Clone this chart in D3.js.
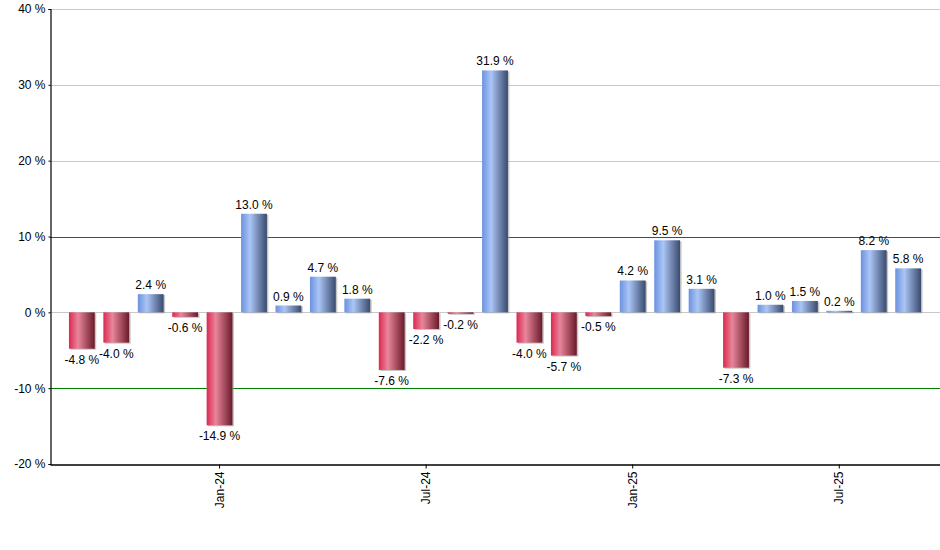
<!DOCTYPE html>
<html>
<head>
<meta charset="utf-8">
<script src="https://cdn.jsdelivr.net/npm/d3@7"></script>
<style>
  body { margin: 0; background: #fff; }
  svg text { font-family: "Liberation Sans", Arial, sans-serif; fill: #000; }
</style>
</head>
<body>
<svg id="chart" width="940" height="550"></svg>
<script>
// monthly returns, Sep-23 .. Sep-25
const months = ["2023-09", "2023-10", "2023-11", "2023-12", "2024-01", "2024-02", "2024-03",
  "2024-04", "2024-05", "2024-06", "2024-07", "2024-08", "2024-09", "2024-10", "2024-11",
  "2024-12", "2025-01", "2025-02", "2025-03", "2025-04", "2025-05", "2025-06", "2025-07",
  "2025-08", "2025-09"];
const returns = [-4.8, -4.0, 2.4, -0.6, -14.9, 13.0, 0.9, 4.7, 1.8, -7.6, -2.2, -0.2, 31.9,
  -4.0, -5.7, -0.5, 4.2, 9.5, 3.1, -7.3, 1.0, 1.5, 0.2, 8.2, 5.8];
const xTicks = ["2024-01", "2024-07", "2025-01", "2025-07"];
const yTicks = [-20, -10, 0, 10, 20, 30, 40];
const greenLines = [-10, 10];

const data = months.map((m, i) => ({ month: m, value: returns[i] }));

// plot area
const plotLeft = 50, plotRight = 940, plotTop = 9, plotBottom = 464;

const svg = d3.select("#chart");

const x = d3.scaleBand()
  .domain(months)
  .range([plotLeft, plotRight])
  .paddingInner(0.25)
  .paddingOuter(0.55);

const y = d3.scaleLinear()
  .domain([-20, 40])
  .range([plotBottom, plotTop]);

// crisp 1px lines
const crisp = v => Math.round(v) + 0.5;

// gradients
const defs = svg.append("defs");
function grad(id, stops) {
  const g = defs.append("linearGradient").attr("id", id)
    .attr("x1", "0%").attr("x2", "100%").attr("y1", "0%").attr("y2", "0%");
  stops.forEach(s => g.append("stop").attr("offset", s[0]).attr("stop-color", s[1]));
}
grad("gradPos", [["0%", "#6b92e0"], ["35%", "#abc5f5"], ["100%", "#394a6e"]]);
grad("gradNeg", [["0%", "#dc2850"], ["35%", "#e8869b"], ["100%", "#6a1a2a"]]);

// grid lines
svg.append("g")
  .selectAll("line")
  .data(yTicks.filter(t => t > -20))
  .join("line")
  .attr("x1", plotLeft).attr("x2", plotRight)
  .attr("y1", d => crisp(y(d))).attr("y2", d => crisp(y(d)))
  .attr("stroke", d => greenLines.includes(d) ? "#008000" : "#c8c8c8")
  .attr("stroke-width", 1);

// bars
const bars = svg.append("g");
bars.selectAll(".shadow")
  .data(data)
  .join("rect")
  .attr("class", "shadow")
  .attr("x", d => x(d.month) + 1.5)
  .attr("y", d => Math.min(y(d.value), y(0)) + 1)
  .attr("width", x.bandwidth())
  .attr("height", d => Math.abs(y(d.value) - y(0)))
  .attr("fill", "#a0a0a0")
  .attr("opacity", 0.6);

bars.selectAll(".bar")
  .data(data)
  .join("rect")
  .attr("class", "bar")
  .attr("x", d => x(d.month))
  .attr("y", d => Math.min(y(d.value), y(0)))
  .attr("width", x.bandwidth())
  .attr("height", d => Math.abs(y(d.value) - y(0)))
  .attr("fill", d => d.value >= 0 ? "url(#gradPos)" : "url(#gradNeg)");

// value labels
svg.append("g")
  .selectAll("text")
  .data(data)
  .join("text")
  .attr("x", d => x(d.month) + x.bandwidth() / 2)
  .attr("y", d => d.value >= 0 ? y(d.value) - 5 : y(d.value) + 15)
  .attr("text-anchor", "middle")
  .attr("font-size", 12)
  .text(d => d.value.toFixed(1) + " %");

// y axis
const yAxis = d3.axisLeft(y)
  .tickValues(yTicks)
  .tickSize(2)
  .tickPadding(3)
  .tickFormat(d => d + " %");
const gy = svg.append("g")
  .attr("transform", `translate(${plotLeft + 0.5},0)`)
  .call(yAxis);
gy.select(".domain").attr("stroke", "#000").attr("stroke-width", 1.2);
gy.selectAll("text").attr("font-size", 12).attr("font-family", "Liberation Sans, Arial, sans-serif");

// x axis
const xAxis = d3.axisBottom(x)
  .tickValues(xTicks)
  .tickSize(4)
  .tickSizeOuter(0)
  .tickFormat(d => d3.timeFormat("%b-%y")(d3.timeParse("%Y-%m")(d)));
const gx = svg.append("g")
  .attr("transform", `translate(0,${crisp(plotBottom)})`)
  .call(xAxis);
gx.select(".domain").attr("stroke", "#000").attr("stroke-width", 1.5);
gx.selectAll("text")
  .attr("font-size", 12)
  .attr("font-family", "Liberation Sans, Arial, sans-serif")
  .attr("transform", "rotate(-90)")
  .attr("text-anchor", "end")
  .attr("x", -7)
  .attr("y", 0)
  .attr("dy", "0.35em");
</script>
</body>
</html>
